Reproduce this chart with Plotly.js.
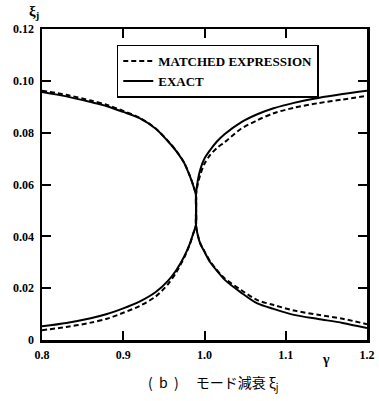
<!DOCTYPE html>
<html>
<head>
<meta charset="utf-8">
<script src="https://cdn.plot.ly/plotly-3.0.1.min.js"></script>
<style>html,body{margin:0;padding:0;background:#fff;}</style>
</head>
<body>
<div id="chart" style="width:379px;height:401px;"></div>
<script>
// ---- data ----
const gammaLeft  = [0.80, 0.83, 0.86, 0.88, 0.90, 0.92, 0.94, 0.955, 0.965, 0.975, 0.982, 0.986, 0.9895];
const gammaRight = [0.9895, 0.992, 0.995, 1.0, 1.007, 1.015, 1.025, 1.045, 1.065, 1.085, 1.11, 1.14, 1.17, 1.2];

// EXACT
const exactUpperLeft  = [0.0957, 0.0940, 0.0918, 0.0902, 0.0880, 0.0856, 0.0815, 0.0767, 0.0730, 0.0683, 0.0632, 0.0597, 0.0559];
const exactLowerLeft  = [0.0053, 0.0066, 0.0084, 0.0100, 0.0122, 0.0148, 0.0185, 0.0228, 0.0268, 0.0322, 0.0372, 0.0410, 0.0444];
const exactUpperRight = [0.0559, 0.0620, 0.0660, 0.0700, 0.0733, 0.0765, 0.0795, 0.0840, 0.0871, 0.0894, 0.0915, 0.0934, 0.0949, 0.0962];
const exactLowerRight = [0.0444, 0.0400, 0.0370, 0.0340, 0.0300, 0.0268, 0.0232, 0.0183, 0.0141, 0.0120, 0.0097, 0.0081, 0.0066, 0.0046];

// MATCHED EXPRESSION
const matchUpperLeft  = [0.0962, 0.0946, 0.0924, 0.0907, 0.0884, 0.0858, 0.0816, 0.0768, 0.0731, 0.0684, 0.0633, 0.0598, 0.0559];
const matchLowerLeft  = [0.0038, 0.0050, 0.0067, 0.0082, 0.0105, 0.0131, 0.0168, 0.0215, 0.0260, 0.0318, 0.0370, 0.0409, 0.0444];
const matchUpperRight = [0.0559, 0.0605, 0.0640, 0.0680, 0.0714, 0.0740, 0.0764, 0.0815, 0.0848, 0.0875, 0.0896, 0.0914, 0.0928, 0.0942];
const matchLowerRight = [0.0444, 0.0402, 0.0372, 0.0342, 0.0303, 0.0271, 0.0237, 0.0193, 0.0154, 0.0135, 0.0114, 0.0097, 0.0082, 0.0061];

const xTickVals = [0.8, 0.9, 1.0, 1.1, 1.2];
const xTickText = ['0.8', '0.9', '1.0', '1.1', '1.2'];
const yTickVals = [0, 0.02, 0.04, 0.06, 0.08, 0.10, 0.12];
const yTickText = ['0', '0.02', '0.04', '0.06', '0.08', '0.10', '0.12'];

const seriesNames = ['MATCHED EXPRESSION', 'EXACT'];

// ---- build traces ----
const serif = 'Liberation Serif, Times New Roman, serif';
function mode(xL, yL, xR, yR) {
  return { x: xL.concat(xR), y: yL.concat(yR) };
}
const exactM1 = mode(gammaLeft, exactUpperLeft, gammaRight, exactLowerRight);
const exactM2 = mode(gammaLeft, exactLowerLeft, gammaRight, exactUpperRight);
const matchM1 = mode(gammaLeft, matchUpperLeft, gammaRight, matchLowerRight);
const matchM2 = mode(gammaLeft, matchLowerLeft, gammaRight, matchUpperRight);

const dashLine = { color: '#000', width: 2, dash: '5px,3px', shape: 'spline', smoothing: 0.8 };
const solidLine = { color: '#000', width: 2, shape: 'spline', smoothing: 0.8 };

const traces = [
  { x: matchM1.x, y: matchM1.y, mode: 'lines', line: dashLine, name: seriesNames[0], legendgroup: 'm', showlegend: true },
  { x: matchM2.x, y: matchM2.y, mode: 'lines', line: dashLine, name: seriesNames[0], legendgroup: 'm', showlegend: false },
  { x: exactM1.x, y: exactM1.y, mode: 'lines', line: solidLine, name: seriesNames[1], legendgroup: 'e', showlegend: true },
  { x: exactM2.x, y: exactM2.y, mode: 'lines', line: solidLine, name: seriesNames[1], legendgroup: 'e', showlegend: false }
];

const axisCommon = {
  showline: true, linecolor: '#000', linewidth: 2.5, mirror: 'ticks',
  ticks: 'inside', ticklen: 9, tickwidth: 2, tickcolor: '#000',
  showgrid: false, zeroline: false,
  tickfont: { family: serif, size: 12, color: '#000', weight: 'bold' }
};

const layout = {
  width: 379, height: 401,
  margin: { l: 42, r: 12, t: 29, b: 61 },
  paper_bgcolor: '#fff', plot_bgcolor: '#fff',
  showlegend: true,
  legend: {
    x: 0.23, y: 0.95, xanchor: 'left', yanchor: 'top',
    bgcolor: 'rgba(255,255,255,0)', bordercolor: '#000', borderwidth: 1.5,
    font: { family: serif, size: 13, color: '#000', weight: 'bold' },
    traceorder: 'normal', tracegroupgap: 0, itemwidth: 30
  },
  xaxis: Object.assign({}, axisCommon, {
    range: [0.8, 1.2], tickmode: 'array', tickvals: xTickVals, ticktext: xTickText,
    ticklabelstandoff: 2
  }),
  yaxis: Object.assign({}, axisCommon, {
    range: [0, 0.12], tickmode: 'array', tickvals: yTickVals, ticktext: yTickText,
    ticklabelstandoff: 3
  }),
  annotations: [
    { text: 'ξ<sub>j</sub>', xref: 'paper', yref: 'paper', x: -0.025, y: 1.056,
      xanchor: 'center', yanchor: 'middle', showarrow: false,
      font: { family: serif, size: 15, color: '#000', weight: 'bold' } },
    { text: 'γ', xref: 'paper', yref: 'paper', x: 0.874, y: -0.064,
      xanchor: 'center', yanchor: 'middle', showarrow: false,
      font: { family: serif, size: 14, color: '#000', weight: 'bold' } },
    { text: '(  b  )　 モード減衰 ξ<sub>j</sub>', xref: 'paper', yref: 'paper', x: 0.525, y: -0.138,
      xanchor: 'center', yanchor: 'middle', showarrow: false,
      font: { family: 'Noto Sans CJK JP, sans-serif', size: 14, color: '#000' } }
  ]
};

Plotly.newPlot('chart', traces, layout, { displayModeBar: false, staticPlot: true });
</script>
</body>
</html>
